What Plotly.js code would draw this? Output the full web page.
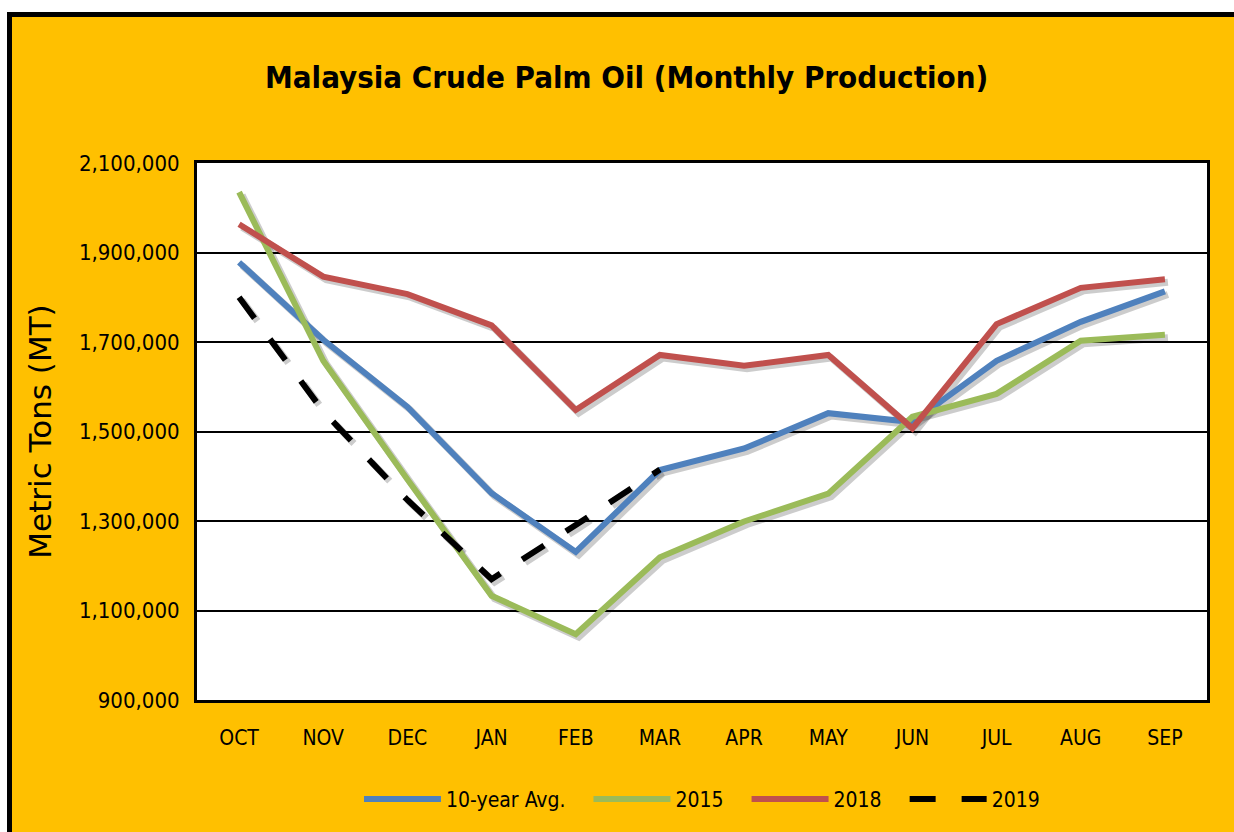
<!DOCTYPE html>
<html>
<head>
<meta charset="utf-8">
<script src="https://cdn.plot.ly/plotly-3.0.1.min.js"></script>
<style>
  html, body { margin:0; padding:0; background:#ffffff; overflow:hidden; width:1234px; height:832px; }
  #wrap { position:absolute; left:7px; top:12px; border-left:5px solid #000; border-top:5px solid #000; width:1222px; height:815px; background:#FFC000; }
  #chart { width:1222px; height:815px; }
</style>
</head>
<body>
<div id="wrap"><div id="chart"></div></div>
<script>
const months = ['OCT','NOV','DEC','JAN','FEB','MAR','APR','MAY','JUN','JUL','AUG','SEP'];
const avg10  = [1878000,1705000,1555000,1362000,1231000,1414000,1462000,1541000,1521000,1658000,1745000,1813000];
const y2015  = [2035000,1658000,1393000,1133000,1047000,1219000,1299000,1361000,1533000,1584000,1703000,1716000];
const y2018  = [1963000,1846000,1807000,1737000,1548000,1671000,1647000,1671000,1507000,1740000,1821000,1840000];
const y2019  = [1800000,1545000,1347000,1170000,1291000,1415000,null,null,null,null,null,null];
const yTicks = [900000,1100000,1300000,1500000,1700000,1900000,2100000];
const seriesNames = ['10-year Avg.','2015','2018','2019'];

const FONT = '"DejaVu Sans Condensed", "Liberation Sans Narrow", sans-serif';
const YTFONT = '"DejaVu Sans", Verdana, sans-serif';
const colors = ['#4F81BD','#9BBB59','#C0504D','#000000'];
const data = [avg10, y2015, y2018, y2019];

const yMin = 900000, yMax = 2100000;
const plotH = 540, plotW = 1010;
const shadowDy = 3 * (yMax - yMin) / plotH;   // 3px down
const shadowDx = 3 * 12 / plotW;              // 3px right
const PAD = '\u00a0\u00a0\u00a0';              // spacing after legend text

const traces = [];
data.forEach((d, i) => {
  traces.push({
    x: months, y: d, type: 'scatter', mode: 'lines',
    xaxis: 'x', yaxis: 'y', showlegend: false, hoverinfo: 'skip',
    line: { color: 'rgba(0,0,0,0.2)', width: 7, dash: i === 3 ? '26px,26px' : 'solid' },
    connectgaps: false
  });
});
data.forEach((d, i) => {
  traces.push({
    x: months, y: d, type: 'scatter', mode: 'lines',
    name: seriesNames[i] + (i < 3 ? PAD : ''),
    xaxis: 'x2', yaxis: 'y2',
    line: { color: colors[i], width: 6, dash: i === 3 ? '26px,26px' : 'solid' },
    connectgaps: false
  });
});

const layout = {
  width: 1222, height: 815,
  paper_bgcolor: '#FFC000', plot_bgcolor: '#ffffff',
  margin: { l: 185, r: 27, t: 146, b: 129 },
  font: { family: FONT, color: '#000', size: 21 },
  title: {
    text: '<b>Malaysia Crude Palm Oil (Monthly Production)</b>',
    font: { family: FONT, size: 31, color: '#000' },
    x: 0.503, xref: 'container', xanchor: 'center',
    y: 0.926, yref: 'container', yanchor: 'middle'
  },
  xaxis: {
    type: 'category', range: [-0.5 - shadowDx, 11.5 - shadowDx],
    showgrid: false, showticklabels: false, zeroline: false, showline: false, fixedrange: true
  },
  yaxis: {
    range: [yMin + shadowDy, yMax + shadowDy],
    showgrid: false, showticklabels: false, zeroline: false, showline: false, fixedrange: true
  },
  xaxis2: {
    overlaying: 'x', type: 'category', range: [-0.5, 11.5],
    showgrid: false, zeroline: false,
    showline: true, mirror: true, linecolor: '#000', linewidth: 3,
    ticks: '', ticklabelstandoff: 17,
    tickfont: { family: FONT, size: 21, color: '#000' }
  },
  yaxis2: {
    overlaying: 'y', side: 'left', range: [yMin, yMax],
    tickvals: yTicks, tickformat: ',d',
    showgrid: true, gridcolor: '#000', gridwidth: 2, zeroline: false,
    showline: true, mirror: true, linecolor: '#000', linewidth: 3,
    ticks: '', ticklabelstandoff: 10,
    tickfont: { family: FONT, size: 22, color: '#000' },
    title: { text: 'Metric Tons (MT)', font: { family: YTFONT, size: 31, color: '#000' }, standoff: 19 }
  },
  legend: {
    orientation: 'h', x: 0.5, xanchor: 'center', y: -0.185, yanchor: 'middle',
    font: { family: FONT, size: 21, color: '#000' },
    bgcolor: 'rgba(0,0,0,0)', itemwidth: 77
  },
  showlegend: true
};

Plotly.newPlot('chart', traces, layout, { staticPlot: true, displayModeBar: false });
</script>
</body>
</html>
